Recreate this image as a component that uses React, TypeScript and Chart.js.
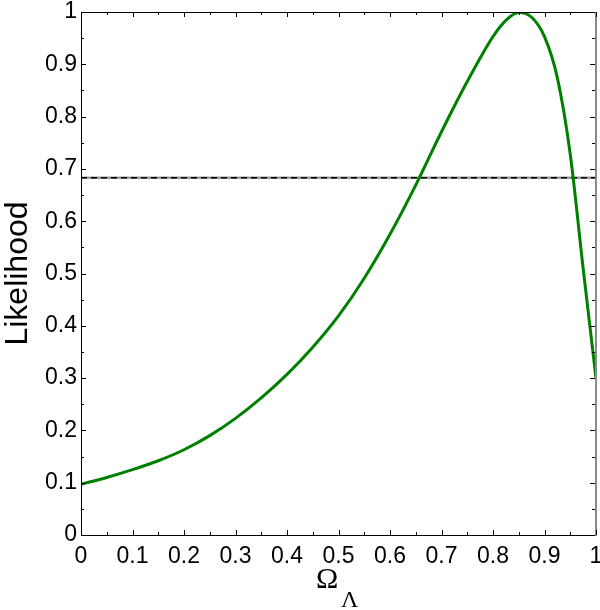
import { useEffect, useRef } from 'react';
import { Chart, registerables } from 'chart.js';

Chart.register(...registerables);

// Ω_Λ values (x) and normalised likelihood (y)
const omegaLambda = [
  0, 0.05, 0.1, 0.15, 0.2, 0.25, 0.3, 0.35, 0.4, 0.45, 0.5, 0.55, 0.6, 0.65,
  0.7, 0.75, 0.8, 0.825, 0.85, 0.875, 0.9, 0.925, 0.95, 0.975, 1,
];
const likelihood = [
  0.097, 0.110, 0.125, 0.142, 0.163, 0.190, 0.223, 0.262, 0.307, 0.359, 0.419,
  0.491, 0.575, 0.669, 0.771, 0.867, 0.953, 0.984, 0.999, 0.990, 0.953, 0.874,
  0.728, 0.510, 0.300,
];
// 68.3% confidence level line
const confidenceX = [0, 1];
const confidenceLevel = 0.683;

const xTicks = [0, 0.1, 0.2, 0.3, 0.4, 0.5, 0.6, 0.7, 0.8, 0.9, 1];
const yTicks = [0, 0.1, 0.2, 0.3, 0.4, 0.5, 0.6, 0.7, 0.8, 0.9, 1];

const SANS = '"Liberation Sans", Arial, Helvetica, sans-serif';
const SERIF = '"Liberation Serif", "Times New Roman", serif';

const framePlugin = {
  id: 'frame',
  afterDraw(chart: any) {
    const { ctx, chartArea } = chart;
    const xs = chart.scales.x;
    const ys = chart.scales.y;
    const { left, right, top, bottom } = chartArea;
    ctx.save();
    // borders
    ctx.lineWidth = 1;
    ctx.strokeStyle = '#000';
    ctx.beginPath();
    ctx.moveTo(left + 0.5, top + 0.5);
    ctx.lineTo(left + 0.5, bottom + 0.5);
    ctx.lineTo(right, bottom + 0.5);
    ctx.moveTo(left, top + 0.5);
    ctx.lineTo(right, top + 0.5);
    ctx.stroke();
    ctx.strokeStyle = '#8a8a8a';
    ctx.lineWidth = 2;
    ctx.beginPath();
    ctx.moveTo(right, top);
    ctx.lineTo(right, bottom + 1);
    ctx.stroke();

    // inward ticks
    ctx.strokeStyle = '#000';
    ctx.lineWidth = 1;
    ctx.beginPath();
    for (let i = 0; i <= 20; i++) {
      const v = i / 20;
      const len = i % 2 === 0 ? 5 : 3;
      const px = Math.round(xs.getPixelForValue(v)) + 0.5;
      ctx.moveTo(px, bottom);
      ctx.lineTo(px, bottom - len);
      ctx.moveTo(px, top);
      ctx.lineTo(px, top + len);
      const py = Math.round(ys.getPixelForValue(v)) + 0.5;
      ctx.moveTo(left, py);
      ctx.lineTo(left + len, py);
      ctx.moveTo(right - 1, py);
      ctx.lineTo(right - 1 - len, py);
    }
    ctx.stroke();

    // axis titles
    ctx.fillStyle = '#000';
    ctx.font = `32px ${SANS}`;
    ctx.textAlign = 'center';
    ctx.textBaseline = 'alphabetic';
    ctx.save();
    ctx.translate(27, (top + bottom) / 2);
    ctx.rotate(-Math.PI / 2);
    ctx.fillText('Likelihood', 0, 0);
    ctx.restore();

    ctx.textAlign = 'left';
    ctx.font = `30px ${SERIF}`;
    ctx.fillText('Ω', 316, 588);
    ctx.font = `24px ${SERIF}`;
    ctx.fillText('Λ', 341, 607);
    ctx.restore();
  },
};

export default function App() {
  const ref = useRef<HTMLCanvasElement>(null);
  useEffect(() => {
    if (!ref.current) return;
    const chart = new Chart(ref.current, {
      type: 'line',
      data: {
        datasets: [
          {
            data: omegaLambda.map((x, i) => ({ x, y: likelihood[i] })),
            borderColor: 'rgb(0,128,0)',
            borderWidth: 3,
            pointRadius: 0,
            cubicInterpolationMode: 'monotone',
            fill: false,
          },
          {
            data: confidenceX.map((x) => ({ x, y: confidenceLevel })),
            borderColor: '#000',
            borderWidth: 1.5,
            borderDash: [6, 4],
            pointRadius: 0,
            fill: false,
          },
          {
            data: confidenceX.map((x) => ({ x, y: confidenceLevel })),
            borderColor: '#9a9a9a',
            borderWidth: 2.5,
            pointRadius: 0,
            fill: false,
          },
        ],
      },
      options: {
        responsive: false,
        animation: false,
        layout: { padding: { top: 12, right: 4, left: 0, bottom: 0 } },
        plugins: { legend: { display: false }, tooltip: { enabled: false } },
        scales: {
          x: {
            type: 'linear',
            min: 0,
            max: 1,
            afterFit: (s: any) => {
              s.height = 75;
              s.paddingLeft = 0;
              s.paddingRight = 0;
            },
            afterBuildTicks: (s: any) => {
              s.ticks = xTicks.map((v) => ({ value: v }));
            },
            grid: { display: false, drawTicks: false },
            border: { display: false },
            ticks: {
              autoSkip: false,
              maxRotation: 0,
              padding: 8,
              color: '#000',
              font: { size: 23, family: SANS },
              callback: (v: any) => String(Math.round(Number(v) * 10) / 10),
            },
          },
          y: {
            type: 'linear',
            min: 0,
            max: 1,
            afterFit: (s: any) => {
              s.width = 81;
              s.paddingTop = 0;
              s.paddingBottom = 0;
            },
            afterBuildTicks: (s: any) => {
              s.ticks = yTicks.map((v) => ({ value: v }));
            },
            grid: { display: false, drawTicks: false },
            border: { display: false },
            ticks: {
              autoSkip: false,
              padding: 4,
              color: '#000',
              font: { size: 23, family: SANS },
              callback: (v: any) => String(Math.round(Number(v) * 10) / 10),
            },
          },
        },
      },
      plugins: [framePlugin],
    } as any);
    return () => chart.destroy();
  }, []);
  return (
    <div style={{ position: 'fixed', left: 0, top: 0, width: 600, height: 610, background: '#fff' }}>
      <canvas ref={ref} width={600} height={610} style={{ display: 'block' }} />
    </div>
  );
}
